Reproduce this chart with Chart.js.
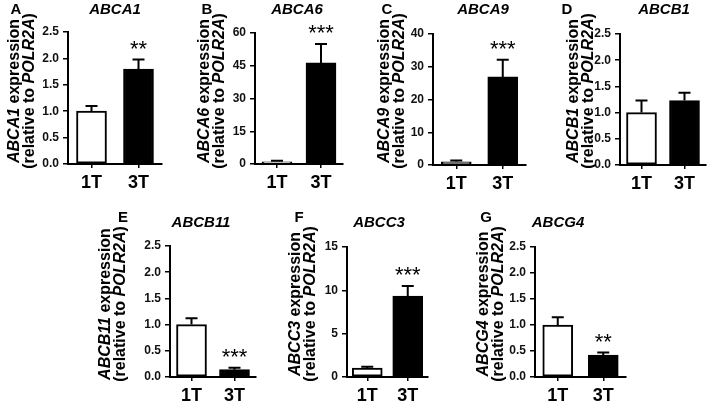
<!DOCTYPE html>
<html>
<head>
<meta charset="utf-8">
<script src="https://cdn.jsdelivr.net/npm/chart.js@4"></script>
<style>
  html, body { margin: 0; padding: 0; background: #fff; }
  #wrap { position: relative; width: 709px; height: 402px; }
  #wrap canvas { position: absolute; left: 0; top: 0; }
</style>
</head>
<body>
<div id="wrap"></div>
<script>
// data
const panelLetters = ["A", "B", "C", "D", "E", "F", "G"];
const genes = ["ABCA1", "ABCA6", "ABCA9", "ABCB1", "ABCB11", "ABCC3", "ABCG4"];
const groups = ["1T", "3T"];
const mean1T = [1.0, 1.0, 1.0, 1.0, 1.0, 1.02, 1.0];
const sem1T = [0.1, 0.5, 0.4, 0.23, 0.12, 0.15, 0.15];
const mean3T = [1.8, 46.3, 26.9, 1.23, 0.14, 9.35, 0.42];
const sem3T = [0.18, 8.7, 5.2, 0.15, 0.035, 1.15, 0.05];
const stars = ["**", "***", "***", "", "***", "***", "**"];
const yMax = [2.5, 60, 40, 2.5, 2.5, 15, 2.5];
const yStep = [0.5, 15, 10, 0.5, 0.5, 5, 0.5];

// layout (page pixels)
const W = 709, H = 402;
const axisX = [68, 255, 433, 620, 170, 347, 535];
const plotRight = [162, 343, 526, 706, 256, 428, 626];
const plotTop = [32, 33, 34, 34, 246, 247, 247];
const plotBottom = [164, 164, 165, 165, 377, 377, 377];
const letterX = [16, 207, 387, 567, 123, 299, 486];
const geneX = [115, 297, 483, 664, 201, 379, 558];
const yTitleX = [15, 205, 385, 574, 106, 296, 484];
const yW = 30, xH = 30;
const FONT = "'Liberation Sans', Arial, sans-serif";

function drawParts(ctx, parts, cx, cy) {
    ctx.save();
    ctx.translate(cx, cy);
    ctx.rotate(-Math.PI / 2);
    ctx.textAlign = "left";
    ctx.textBaseline = "middle";
    let total = 0;
    parts.forEach(p => { ctx.font = p[1] + " bold 16px " + FONT; total += ctx.measureText(p[0]).width; });
    let x = -total / 2;
    parts.forEach(p => {
        ctx.font = p[1] + " bold 16px " + FONT;
        ctx.fillText(p[0], x, 0);
        x += ctx.measureText(p[0]).width;
    });
    ctx.restore();
}

const decor = {
    id: "decor",
    afterDatasetsDraw(chart, args, opts) {
        const ctx = chart.ctx;
        const i = opts.idx;
        const ys = chart.scales.y;
        const meta = chart.getDatasetMeta(0);
        const means = [mean1T[i], mean3T[i]];
        const sems = [sem1T[i], sem3T[i]];
        ctx.save();
        ctx.strokeStyle = "#000";
        ctx.lineWidth = 2;
        meta.data.forEach((bar, k) => {
            const top = ys.getPixelForValue(means[k] + sems[k]);
            ctx.beginPath();
            ctx.moveTo(bar.x, bar.y);
            ctx.lineTo(bar.x, top);
            ctx.moveTo(bar.x - 6, top);
            ctx.lineTo(bar.x + 6, top);
            ctx.stroke();
            if (k === 1 && stars[i]) {
                ctx.fillStyle = "#000";
                ctx.font = "22px " + FONT;
                ctx.textAlign = "center";
                ctx.textBaseline = "middle";
                ctx.fillText(stars[i], bar.x, top - 10);
            }
        });
        ctx.restore();
    },
    afterDraw(chart, args, opts) {
        const ctx = chart.ctx;
        const i = opts.idx;
        const row = i < 4 ? 0 : 1;
        const ty = row === 0 ? 10 : 223;
        ctx.save();
        ctx.fillStyle = "#000";
        ctx.textAlign = "center";
        ctx.textBaseline = "middle";
        ctx.font = "bold 15px " + FONT;
        ctx.fillText(panelLetters[i], letterX[i], row === 0 ? 10 : 218);
        ctx.font = "italic bold 15px " + FONT;
        ctx.fillText(genes[i], geneX[i], ty);
        const cy = row === 0 ? 91 : 304;
        drawParts(ctx, [[genes[i], "italic"], [" expression", "normal"]], yTitleX[i], cy);
        drawParts(ctx, [["(relative to ", "normal"], ["POLR2A", "italic"], [")", "normal"]], yTitleX[i] + 15, cy);
        ctx.restore();
    }
};

genes.forEach((g, i) => {
    const cv = document.createElement("canvas");
    cv.width = W;
    cv.height = H;
    document.getElementById("wrap").appendChild(cv);

    new Chart(cv.getContext("2d"), {
        type: "bar",
        data: {
            labels: groups,
            datasets: [{
                data: [mean1T[i], mean3T[i]],
                backgroundColor: ["#fff", "#000"],
                borderColor: "#000",
                borderWidth: 2,
                borderSkipped: false,
                barThickness: 30
            }]
        },
        options: {
            responsive: false,
            animation: false,
            events: [],
            layout: {
                padding: {
                    left: axisX[i] - yW,
                    top: plotTop[i],
                    right: W - plotRight[i],
                    bottom: H - plotBottom[i] - xH
                }
            },
            plugins: {
                legend: { display: false },
                tooltip: { enabled: false },
                decor: { idx: i }
            },
            scales: {
                x: {
                    afterFit: s => { s.height = xH; },
                    grid: { display: true, drawOnChartArea: false, offset: false, tickLength: 4, color: "#000", lineWidth: 1.5 },
                    border: { display: true, color: "#000", width: 2 },
                    ticks: { color: "#000", font: { family: FONT, size: 18, weight: "bold" }, padding: 4 }
                },
                y: {
                    min: 0,
                    max: yMax[i],
                    afterFit: s => { s.width = yW; },
                    grid: { display: true, drawOnChartArea: false, tickLength: 5, color: "#000", lineWidth: 1.5 },
                    border: { display: true, color: "#000", width: 2 },
                    ticks: {
                        stepSize: yStep[i],
                        color: "#111",
                        padding: 4,
                        font: { family: FONT, size: 12, weight: "bold" },
                        callback: v => yStep[i] < 1 ? v.toFixed(1) : String(v)
                    }
                }
            }
        },
        plugins: [decor]
    });
});
</script>
</body>
</html>
